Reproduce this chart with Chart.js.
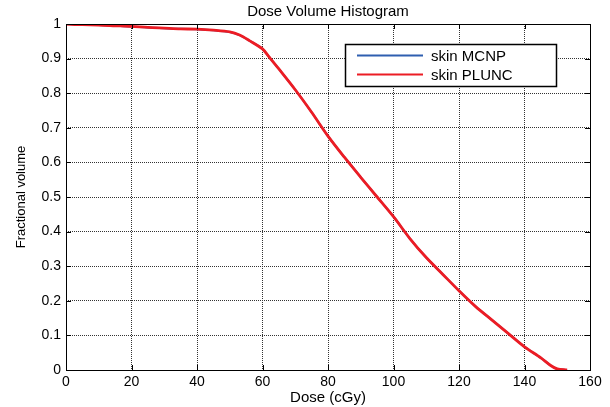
<!DOCTYPE html>
<html>
<head>
<meta charset="utf-8">
<script src="https://cdn.jsdelivr.net/npm/chart.js@4.4.1/dist/chart.umd.min.js"></script>
<style>
html,body{margin:0;padding:0;background:#fff;}
#wrap{width:610px;height:407px;position:relative;}
</style>
</head>
<body>
<div id="wrap"><canvas id="c" width="610" height="407"></canvas></div>
<script>
const chartTitle = 'Dose Volume Histogram';
const xTitle = 'Dose (cGy)';
const yTitle = 'Fractional volume';
const seriesNames = ['skin MCNP', 'skin PLUNC'];
const doses = [0,5,10,15,20,25,30,35,40,45,50,53,56,60,62,65,70,75,80,85,90,95,100,105,110,115,120,125,130,135,140,145,148,150,153];
const mcnpVolume = [1.0,0.998,0.997,0.995,0.993,0.990,0.988,0.986,0.985,0.982,0.977,0.968,0.952,0.928,0.905,0.870,0.810,0.745,0.676,0.615,0.557,0.500,0.443,0.380,0.325,0.277,0.229,0.184,0.145,0.106,0.067,0.035,0.013,0.003,0.0];
const pluncVolume = [1.0,0.998,0.997,0.995,0.993,0.990,0.988,0.986,0.985,0.982,0.977,0.968,0.952,0.928,0.905,0.870,0.810,0.745,0.676,0.615,0.557,0.500,0.443,0.380,0.325,0.277,0.229,0.184,0.145,0.106,0.067,0.035,0.013,0.003,0.0];
const xTicks = [0,20,40,60,80,100,120,140,160];
const yTicks = [0,0.1,0.2,0.3,0.4,0.5,0.6,0.7,0.8,0.9,1];
const colors = ['#2f5fb0', '#ec1c24'];

const FONT = 'Arial, "Liberation Sans", sans-serif';

const toPts = (xs, ys) => xs.map((x, i) => ({x: x, y: ys[i]}));

const boxLegend = {
  id: 'boxLegend',
  afterDatasetsDraw(chart) {
    const ctx = chart.ctx;
    ctx.save();
    ctx.fillStyle = '#fff';
    ctx.fillRect(345, 44, 212, 43);
    ctx.strokeStyle = '#000';
    ctx.lineWidth = 1.5;
    ctx.strokeRect(345.5, 44.5, 211, 42);
    const rows = [55.5, 74.5];
    chart.data.datasets.forEach((ds, i) => {
      ctx.strokeStyle = ds.borderColor;
      ctx.lineWidth = 2;
      ctx.beginPath();
      ctx.moveTo(357, rows[i]);
      ctx.lineTo(423, rows[i]);
      ctx.stroke();
      ctx.fillStyle = '#000';
      ctx.font = '15px ' + FONT;
      ctx.textBaseline = 'middle';
      ctx.textAlign = 'left';
      ctx.fillText(ds.label, 431, rows[i] + 1);
    });
    ctx.restore();
  }
};

const frame = {
  id: 'frame',
  afterDraw(chart) {
    const a = chart.chartArea, ctx = chart.ctx;
    ctx.save();
    ctx.strokeStyle = '#000';
    ctx.lineWidth = 1;
    ctx.strokeRect(Math.round(a.left) + 0.5, Math.round(a.top) + 0.5, Math.round(a.right - a.left), Math.round(a.bottom - a.top));
    const xs = chart.scales.x, ys = chart.scales.y;
    ctx.beginPath();
    xTicks.forEach(v => {
      const px = Math.round(xs.getPixelForValue(v)) + 0.5;
      ctx.moveTo(px, a.bottom); ctx.lineTo(px, a.bottom - 5);
      ctx.moveTo(px, a.top); ctx.lineTo(px, a.top + 5);
    });
    yTicks.forEach(v => {
      const py = Math.round(ys.getPixelForValue(v)) + 0.5;
      ctx.moveTo(a.left, py); ctx.lineTo(a.left + 5, py);
      ctx.moveTo(a.right, py); ctx.lineTo(a.right - 5, py);
    });
    ctx.stroke();
    ctx.restore();
  }
};

new Chart(document.getElementById('c'), {
  type: 'line',
  data: {
    datasets: [
      {label: seriesNames[0], order: 2, data: toPts(doses, mcnpVolume), borderColor: colors[0], backgroundColor: colors[0], borderWidth: 2, pointRadius: 0, tension: 0.3, fill: false},
      {label: seriesNames[1], order: 1, data: toPts(doses, pluncVolume), borderColor: colors[1], backgroundColor: colors[1], borderWidth: 2.8, pointRadius: 0, tension: 0.3, fill: false}
    ]
  },
  options: {
    responsive: false,
    animation: false,
    devicePixelRatio: 1,
    layout: {padding: {left: 0, right: 20, top: 0, bottom: 0}},
    plugins: {
      legend: {display: false},
      tooltip: {enabled: false},
      title: {
        display: true,
        fullSize: false,
        text: chartTitle,
        color: '#000',
        font: {family: FONT, size: 15, weight: 'normal'},
        padding: {top: 3, bottom: 3}
      }
    },
    scales: {
      x: {
        type: 'linear',
        min: 0, max: 160,
        afterBuildTicks: s => { s.ticks = xTicks.map(v => ({value: v})); },
        afterFit: s => { s.height = 37; },
        grid: {color: '#333', lineWidth: 1, tickLength: 0, drawTicks: false},
        border: {display: false, dash: [1, 1]},
        ticks: {color: '#000', font: {family: FONT, size: 14}, padding: 4, maxRotation: 0, callback: v => String(v)},
        title: {display: true, text: xTitle, color: '#000', font: {family: FONT, size: 15}, padding: {top: 0, bottom: 0}}
      },
      y: {
        type: 'linear',
        min: 0, max: 1,
        afterBuildTicks: s => { s.ticks = yTicks.map(v => ({value: v})); },
        afterFit: s => { s.width = 66; },
        grid: {color: '#333', lineWidth: 1, tickLength: 0, drawTicks: false},
        border: {display: false, dash: [1, 1]},
        ticks: {color: '#000', font: {family: FONT, size: 14}, padding: 5, callback: v => String(Math.round(v * 10) / 10)},
        title: {display: true, text: yTitle, color: '#000', font: {family: FONT, size: 13}, padding: {top: 14, bottom: 0}}
      }
    }
  },
  plugins: [boxLegend, frame]
});
</script>
</body>
</html>
